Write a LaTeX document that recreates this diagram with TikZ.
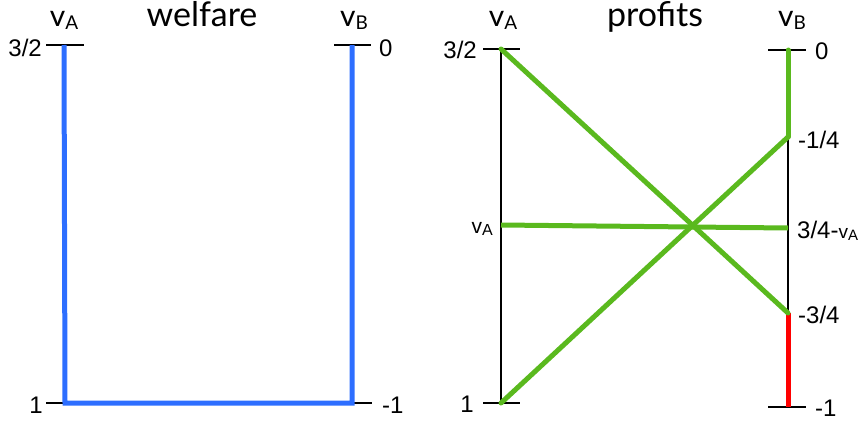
\documentclass[tikz,border=0pt]{standalone}
\usepackage{fontspec}
\setmainfont{Liberation Sans}
\newfontfamily\titlefont{Lato}
\definecolor{wblue}{RGB}{45,110,255}
\definecolor{pgreen}{RGB}{90,185,30}
\definecolor{pred}{RGB}{255,0,0}
\newcommand{\vsub}[1]{v\raisebox{-0.12em}{\fontsize{19}{20}\selectfont #1}}
\newcommand{\vsubm}[1]{{\fontsize{21}{22}\selectfont v\raisebox{-0.12em}{\fontsize{16}{17}\selectfont #1}}}
\newcommand{\vsubs}[1]{{\fontsize{19}{20}\selectfont v\raisebox{-0.12em}{\fontsize{15}{16}\selectfont #1}}}
\begin{document}
\begin{tikzpicture}[x=1pt,y=-1pt,
  tickline/.style={line width=2pt,black},
  axisline/.style={line width=2pt,black},
  welfline/.style={line width=5pt,wblue,line join=miter,line cap=butt},
  profline/.style={line width=5pt,pgreen,line cap=round},
  badline/.style={line width=5pt,pred},
  head/.style={font=\titlefont\fontsize{30}{36}\selectfont,anchor=base,inner sep=0pt},
  title/.style={font=\titlefont\fontsize{34}{40}\selectfont,anchor=base,inner sep=0pt},
  lab/.style={font=\fontsize{24}{28}\selectfont,inner sep=0pt}]
\useasboundingbox (0,0) rectangle (864,423);
% ---------- welfare panel ----------
\node[head] (hA1) at (64,26) {\vsub{A}};
\node[title] (hW) at (202,27) {welfare};
\node[head] (hB1) at (354,26) {\vsub{B}};
\coordinate (wTL) at (64,45);
\coordinate (wBL) at (65,403);
\coordinate (wBR) at (352,403);
\coordinate (wTR) at (352,45);
\draw[tickline] (46,45) coordinate (wt1a) -- (84,45) coordinate (wt1b);
\draw[tickline] (334,45) coordinate (wt2a) -- (371,45) coordinate (wt2b);
\draw[tickline] (46,403) coordinate (wt3a) -- (wBL);
\draw[tickline] (wBR) -- (372,403) coordinate (wt4b);
\draw[welfline] (wTL) -- (wBL) -- (wBR) -- (wTR);
\node[lab,anchor=base east] (wl1) at (42,56) {3/2};
\node[lab,anchor=base west] (wl2) at (379,56) {0};
\node[lab,anchor=base east] (wl3) at (43,413) {1};
\node[lab,anchor=base west] (wl4) at (382,413) {-1};
% ---------- profits panel ----------
\node[head] (hA2) at (503,26) {\vsub{A}};
\node[title] (hP) at (655,27) {profits};
\node[head] (hB2) at (792,26) {\vsub{B}};
\coordinate (pA0) at (501,49);
\coordinate (pA1) at (501,403);
\coordinate (pAv) at (501,225);
\coordinate (pB0) at (788,50);
\coordinate (pB1) at (788,407);
\coordinate (pBq) at (788,137);
\coordinate (pBv) at (788,228);
\coordinate (pBt) at (788,313);
\draw[axisline] (pA0) -- (pA1);
\draw[axisline] (pB0) -- (pB1);
\draw[tickline] (483,49) coordinate (pt1a) -- (520,49) coordinate (pt1b);
\draw[tickline] (483,403) coordinate (pt2a) -- (520,403) coordinate (pt2b);
\draw[tickline] (768,50) coordinate (pt3a) -- (806,50) coordinate (pt3b);
\draw[tickline] (768,407) coordinate (pt4a) -- (806,407) coordinate (pt4b);
\draw[badline] (pBt) -- (pB1);
\draw[profline] (pB0) -- (pBq);
\draw[profline] (pBq) -- (pA1);
\draw[profline] (pA0) -- (pBt);
\draw[profline,line cap=butt] (pAv) -- (pBv);
\node[lab,anchor=base east] (pl1) at (477,58) {3/2};
\node[lab,anchor=base east] (pl2) at (474,412) {1};
\node[lab,anchor=base east] (pl3) at (493,233) {\vsubm{A}};
\node[lab,anchor=base west] (pl4) at (815,59) {0};
\node[lab,anchor=base west] (pl5) at (815,416) {-1};
\node[lab,anchor=base west] (pl6) at (798,148) {-1/4};
\node[lab,anchor=base west] (pl7) at (797,238) {3/4-\vsubs{A}};
\node[lab,anchor=base west] (pl8) at (798,323) {-3/4};
\end{tikzpicture}
\end{document}
